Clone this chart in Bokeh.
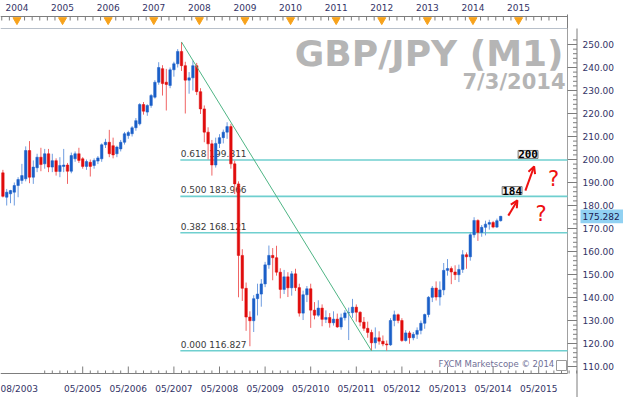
from bokeh.plotting import figure
from bokeh.models import Range1d, Label, Arrow, OpenHead, ColumnDataSource
from bokeh.embed import file_html
from bokeh.resources import INLINE
from bokeh.core.properties import value

# ---------------- data (monthly GBP/JPY candles, Aug 2003 .. Jul 2014) ----------------
first_year, first_month = 2003, 8

opens = [
    194.2, 183.6, 185.1, 185.8, 188.7,
    190.9, 191.6, 203.9, 192.3, 196.4, 201.0, 198.1, 202.5, 196.7, 199.5, 194.8, 197.0,
    197.6, 194.9, 200.3, 202.5, 200.3, 197.0, 198.8, 197.4, 199.3, 200.3, 206.4, 207.5,
    206.0, 202.5, 204.6, 207.5, 210.4, 211.2, 213.8, 215.5, 223.9, 220.6, 223.5, 227.1,
    233.6, 239.5, 233.6, 232.2, 239.0, 241.6, 247.0, 240.8, 234.5, 235.5, 240.8, 229.5,
    222.0, 211.9, 206.8, 197.6, 207.0, 209.5, 211.9, 214.3, 198.1, 189.4, 158.3, 144.0,
    131.5, 129.9, 139.5, 141.5, 145.9, 154.2, 158.3, 157.3, 151.0, 143.5, 149.0, 144.2,
    150.3, 144.3, 133.2, 141.2, 143.8, 134.5, 132.3, 135.4, 130.5, 131.3, 129.0, 130.6,
    127.2, 131.2, 133.3, 133.4, 135.8, 133.6, 129.3, 126.6, 124.8, 120.3, 122.5, 121.0,
    119.8, 119.4, 130.0, 132.5, 130.0, 121.3, 124.6, 122.5, 124.0, 125.7, 128.8, 132.6,
    140.1, 144.1, 140.2, 143.3, 151.8, 152.6, 151.1, 149.9, 152.2, 158.6, 157.7, 167.3,
    173.5, 168.3, 170.5, 171.9, 172.6, 170.6, 173.4,
]
highs = [
    195.5, 187.2, 186.8, 190.0, 192.3,
    198.1, 205.7, 208.0, 199.6, 202.5, 205.1, 204.6, 204.6, 202.5, 200.5, 201.0, 204.6,
    198.5, 203.0, 203.5, 205.1, 201.0, 200.0, 200.0, 200.5, 201.5, 207.0, 209.0, 212.9,
    209.5, 206.0, 208.5, 212.0, 212.5, 214.5, 218.0, 224.5, 225.0, 224.0, 228.5, 234.5,
    242.3, 241.0, 239.4, 240.0, 242.5, 248.0, 251.1, 242.5, 238.0, 243.0, 242.0, 231.0,
    223.5, 214.0, 208.5, 209.5, 211.0, 213.0, 216.2, 215.5, 199.5, 190.5, 161.0, 146.5,
    134.0, 141.0, 146.0, 148.0, 155.5, 162.6, 161.5, 162.5, 152.7, 152.0, 151.0, 151.5,
    152.5, 146.0, 143.0, 145.0, 146.0, 138.0, 138.8, 137.0, 134.4, 133.2, 134.0, 133.0,
    133.0, 134.5, 135.6, 139.4, 137.0, 134.0, 131.5, 129.5, 126.0, 127.0, 125.3, 123.5,
    121.3, 131.0, 134.3, 133.0, 131.0, 125.8, 125.5, 125.0, 127.0, 130.0, 133.0, 140.6,
    145.0, 147.0, 147.0, 155.0, 156.7, 153.5, 154.0, 154.3, 160.6, 159.6, 168.3, 174.9,
    174.0, 171.5, 173.4, 173.8, 173.3, 174.3, 175.5,
]
lows = [
    183.5, 180.0, 181.0, 180.0, 183.6,
    189.4, 190.5, 189.7, 189.4, 194.5, 194.9, 196.0, 194.5, 194.5, 193.0, 192.3, 194.5,
    189.4, 194.0, 199.0, 198.5, 196.0, 195.5, 192.6, 196.0, 198.0, 199.0, 205.0, 201.0,
    200.5, 201.0, 203.5, 206.5, 209.0, 210.0, 212.5, 214.8, 219.5, 219.0, 222.5, 226.5,
    232.5, 227.8, 221.3, 231.0, 236.0, 240.0, 238.5, 220.0, 228.6, 230.0, 228.0, 219.8,
    207.5, 200.0, 193.0, 196.5, 205.0, 207.0, 209.0, 196.0, 185.0, 140.1, 138.5, 125.5,
    118.8, 125.0, 132.2, 136.0, 144.5, 152.5, 147.5, 149.5, 139.6, 141.5, 140.2, 140.8,
    142.8, 131.7, 130.2, 138.0, 126.8, 130.5, 131.6, 127.5, 128.9, 126.9, 127.8, 126.8,
    126.0, 130.0, 121.5, 131.2, 129.5, 127.5, 125.5, 122.5, 116.8, 117.8, 119.5, 118.8,
    116.9, 119.0, 127.5, 128.8, 120.7, 120.8, 119.9, 121.4, 122.0, 124.0, 126.4, 131.4,
    138.0, 138.7, 136.5, 141.0, 149.5, 145.8, 147.6, 146.7, 150.7, 152.5, 156.0, 166.0,
    164.6, 166.4, 167.0, 169.5, 170.1, 170.2, 173.0,
]
closes = [
    184.0, 185.8, 186.5, 188.7, 191.3,
    193.0, 203.9, 192.3, 196.7, 201.0, 197.8, 202.5, 196.7, 199.5, 194.8, 197.4, 197.6,
    194.9, 201.7, 202.5, 199.6, 197.0, 199.1, 197.0, 199.6, 200.7, 206.4, 207.5, 202.5,
    202.0, 205.4, 207.5, 211.2, 211.7, 213.8, 216.9, 223.9, 221.0, 223.5, 227.8, 233.6,
    240.0, 233.0, 232.6, 239.0, 241.6, 247.0, 240.8, 234.5, 235.5, 240.8, 229.5, 222.0,
    211.9, 206.8, 197.6, 207.0, 209.5, 211.9, 214.3, 198.1, 189.4, 158.3, 144.0, 131.5,
    129.9, 139.5, 141.5, 145.9, 154.2, 158.3, 157.3, 151.0, 143.5, 149.0, 144.2, 150.3,
    144.3, 133.2, 141.2, 143.8, 134.5, 132.3, 135.4, 130.5, 131.3, 129.0, 130.6, 127.2,
    131.2, 133.3, 133.4, 135.8, 133.6, 129.3, 126.6, 124.8, 120.3, 122.5, 121.0, 119.8,
    119.4, 130.0, 132.5, 130.0, 121.3, 124.6, 122.5, 124.0, 125.7, 128.8, 132.6, 140.1,
    144.1, 140.2, 143.3, 151.8, 152.6, 151.1, 149.9, 152.2, 158.6, 157.7, 167.3, 173.5,
    168.3, 170.5, 171.9, 172.6, 170.6, 173.4, 175.282,
]

top_years = list(range(2004, 2016))          # top time ruler
bottom_years = list(range(2005, 2016))       # "05/yyyy" labels
first_label = "08/2003"
price_ticks = list(range(110, 251, 10))
price_minor = list(range(110, 254, 2))

fib_ratios = [0.000, 0.382, 0.500, 0.618]
fib_prices = [116.827, 168.121, 183.966, 199.811]
swing_high = ((2007, 7), 251.107)
swing_low = ((2011, 9), 116.827)
current_price = 175.282

title_text = "GBP/JPY (M1)"
date_text = "7/3/2014"
credit_text = "FXCM Marketscope \u00a9 2014"

# hand-drawn annotations (month index, price)
target_boxes = [("200", 138.2, 202.2), ("184", 134.0, 186.5)]
arrows = [(133.0, 175.6, 135.4, 182.2), (137.5, 186.5, 139.8, 197.0)]
questions = [(141.6, 176.5), (144.9, 191.7)]


def month_index(year, month):
    return (year - first_year) * 12 + (month - first_month)


# ---------------- screen layout helpers (pixel -> data) ----------------
W, H = 623, 397
PX_FIRST, PX_PER_MONTH = 2.4, 3.8      # x pixel of first candle, spacing
PY_250, PX_PER_UNIT = 44.0, 2.3        # y pixel of price 250, pixels per yen


def xd(px):
    return (px - PX_FIRST) / PX_PER_MONTH


def yd(py):
    return 250.0 - (py - PY_250) / PX_PER_UNIT


FRAME_R, RULER_R = 567, 576.5
FRAME_T, RULER_T = 28, 16
RULER_B = 373

n = len(opens)
idx = list(range(n))

UP, DOWN = "#1a5fc8", "#e00c0c"
UP_W, DOWN_W = "#6f9de0", "#f06565"
up = [c >= o for o, c in zip(opens, closes)]
src = ColumnDataSource(dict(
    x=idx, o=opens, h=highs, l=lows, c=closes,
    top=[max(o, c) for o, c in zip(opens, closes)],
    bot=[min(o, c) for o, c in zip(opens, closes)],
    col=[UP if u else DOWN for u in up],
    wcol=[UP_W if u else DOWN_W for u in up],
))

p = figure(width=W, height=H, output_backend="svg", toolbar_location=None,
           x_range=Range1d(xd(0), xd(W)), y_range=Range1d(yd(H), yd(0)),
           x_axis_location=None, y_axis_location=None,
           min_border_left=0, min_border_right=0, min_border_top=0, min_border_bottom=0,
           background_fill_color="white", border_fill_color="white",
           outline_line_color=None)
p.grid.visible = False

AX = "#7d7d7d"
TXT = "#333366"
FONT = "DejaVu Sans"

# ---------------- frame and rulers ----------------
p.segment(x0=[xd(0), xd(FRAME_R), xd(0), xd(RULER_R), xd(0), xd(FRAME_R)],
          x1=[xd(FRAME_R), xd(FRAME_R), xd(FRAME_R), xd(RULER_R), xd(FRAME_R), xd(FRAME_R)],
          y0=[yd(FRAME_T), yd(FRAME_T), yd(RULER_B), yd(FRAME_T), yd(RULER_T), yd(RULER_T - 2)],
          y1=[yd(FRAME_T), yd(RULER_B), yd(RULER_B), yd(H), yd(RULER_T), yd(FRAME_T)],
          line_color=["#b8c0ca", "#a0a0a0", AX, AX, AX, AX], line_width=1)

# top ruler (years)
top_ticks = [month_index(y, 1) - 1.3 for y in top_years]
top_minor = [t + k for t in [top_ticks[0] - 12] + top_ticks for k in (2, 4, 6, 8, 10)]
p.segment(x0=top_minor, x1=top_minor, y0=[yd(RULER_T)] * len(top_minor),
          y1=[yd(RULER_T + 4)] * len(top_minor), line_color=AX, line_width=1)
p.scatter(x=top_ticks, y=[yd(RULER_T + 3.5)] * len(top_ticks), marker="inverted_triangle",
          size=8, fill_color="#f7a21b", line_color="#f7a21b")
p.text(x=top_ticks, y=[yd(7)] * len(top_ticks), text=[str(y) for y in top_years],
       text_align="center", text_baseline="middle", text_font=value(FONT),
       text_font_size="9px", text_color=TXT)

# bottom ruler (05/yyyy)
bot_ticks = [month_index(y, 5) for y in bottom_years]
bot_minor = [t + k for t in [bot_ticks[0] - 12] + bot_ticks for k in (2, 4, 6, 8, 10)]
p.segment(x0=bot_ticks, x1=bot_ticks, y0=[yd(RULER_B)] * len(bot_ticks),
          y1=[yd(RULER_B - 7)] * len(bot_ticks), line_color=AX, line_width=1)
p.segment(x0=bot_minor, x1=bot_minor, y0=[yd(RULER_B)] * len(bot_minor),
          y1=[yd(RULER_B - 3)] * len(bot_minor), line_color=AX, line_width=1)
p.text(x=bot_ticks, y=[yd(388)] * len(bot_ticks), text=[f"05/{y}" for y in bottom_years],
       text_align="center", text_baseline="middle", text_font=value(FONT),
       text_font_size="9px", text_color=TXT)
p.text(x=[xd(0)], y=[yd(388)], text=[first_label], text_align="left",
       text_baseline="middle", text_font=value(FONT), text_font_size="9px", text_color=TXT)

# right ruler (prices)
p.segment(x0=[xd(FRAME_R)] * len(price_ticks), x1=[xd(RULER_R)] * len(price_ticks),
          y0=price_ticks, y1=price_ticks, line_color=AX, line_width=1)
p.segment(x0=[xd(RULER_R - 4)] * len(price_minor), x1=[xd(RULER_R)] * len(price_minor),
          y0=price_minor, y1=price_minor, line_color=AX, line_width=1)
p.text(x=[xd(582)] * len(price_ticks), y=price_ticks, text=[f"{t:.2f}" for t in price_ticks],
       text_align="left", text_baseline="middle", text_font=value(FONT),
       text_font_size="9px", text_color=TXT)

# current price tag
p.quad(left=[xd(580)], right=[xd(W)], top=[current_price + 3.0],
       bottom=[current_price - 3.0], fill_color="#91d1f2", line_color=None)
p.text(x=[xd(582)], y=[current_price], text=[f"{current_price:.3f}"], text_align="left",
       text_baseline="middle", text_font=value(FONT), text_font_size="9px",
       text_color="#1a1a50")

# ---------------- fibonacci levels ----------------
fx0 = month_index(*swing_high[0]) - 0.3
p.segment(x0=[fx0] * 4, x1=[xd(FRAME_R)] * 4, y0=fib_prices, y1=fib_prices,
          line_color="#6fcfcf", line_width=1.6)
p.text(x=[fx0 + 0.1] * 4, y=fib_prices,
       text=[f"{r:.3f} {v:.3f}" for r, v in zip(fib_ratios, fib_prices)],
       text_font=value(FONT), text_font_size="9px", text_color="#3a3a3a",
       text_baseline="bottom", y_offset=-1)

# ---------------- candles ----------------
p.segment(x0="x", x1="x", y0="l", y1="h", line_color="wcol", line_width=1, source=src)
p.vbar(x="x", width=0.66, top="top", bottom="bot", fill_color="col", line_color="col",
       line_width=0.5, source=src)

# trend line from swing high to swing low
p.line(x=[month_index(*swing_high[0]), month_index(*swing_low[0])],
       y=[swing_high[1], swing_low[1]], line_color="#4fb585", line_width=1)

# ---------------- texts ----------------
p.add_layout(Label(x=xd(563), y=yd(53.3), text=title_text, text_align="right",
                   text_baseline="alphabetic", text_font=FONT,
                   text_font_style="bold", text_font_size="36px", text_color="#b5b5b5"))
p.add_layout(Label(x=xd(565), y=yd(81.7), text=date_text, text_align="right",
                   text_baseline="alphabetic", text_font=FONT,
                   text_font_style="bold", text_font_size="21px", text_color="#b5b5b5"))
p.add_layout(Label(x=xd(438), y=yd(363), text=credit_text, text_align="left",
                   text_baseline="middle", text_font=FONT, text_font_size="8.5px",
                   text_color="#6f6f96"))
p.quad(left=[xd(556)], right=[xd(566)], top=[yd(360)], bottom=[yd(370)],
       fill_color="white", line_color="#9a9a9a")

# target boxes, arrows, question marks
for t, x, y in target_boxes:
    p.add_layout(Label(x=x, y=y, text=t, text_align="center", text_baseline="middle",
                       text_font="DejaVu Sans Mono", text_font_style="bold",
                       text_font_size="11px", text_color="black",
                       background_fill_color="#f2f2f2", border_line_color="#777777"))
for xs, ys, xe, ye in arrows:
    p.add_layout(Arrow(end=OpenHead(line_color="#ee1111", line_width=2, size=7),
                       x_start=xs, y_start=ys, x_end=xe, y_end=ye,
                       line_color="#ee1111", line_width=2))
for x, y in questions:
    p.add_layout(Label(x=x, y=y, text="?", text_align="center", text_baseline="middle",
                       text_font=FONT, text_font_size="21px", text_color="#ee1111"))

html = file_html(p, INLINE)
html = html.replace("<head>", "<head><style>html,body{margin:0 !important;padding:0 !important;overflow:hidden;}</style>", 1)
open("out.html", "w").write(html)
